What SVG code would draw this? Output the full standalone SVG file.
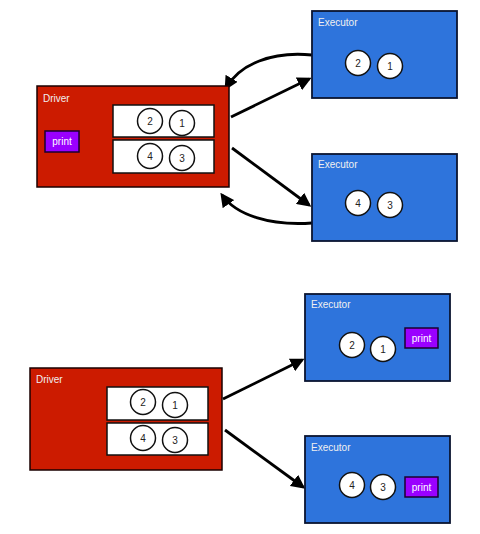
<svg xmlns="http://www.w3.org/2000/svg" width="480" height="534" viewBox="0 0 480 534">
<style>
.drv{fill:#cc1b00;stroke:#1a0000;stroke-width:1.5}
.exe{fill:#2e74dc;stroke:#0a1430;stroke-width:1.8}
.part{fill:#ffffff;stroke:#111;stroke-width:1.5}
.c{fill:#ffffff;stroke:#111;stroke-width:1.5}
.lbl{font-family:"Liberation Sans",Arial,sans-serif;font-size:10px;fill:#f0f0f0}
.num{font-family:"Liberation Sans",Arial,sans-serif;font-size:10px;fill:#222;text-anchor:middle}
.prt{fill:#9a00ff;stroke:#1a0030;stroke-width:1.5}
.pt{font-family:"Liberation Sans",Arial,sans-serif;font-size:10px;fill:#ffffff;text-anchor:middle}
.ar{fill:none;stroke:#000;stroke-width:2.8;marker-end:url(#ah)}
</style>
<defs>
<marker id="ah" viewBox="0 0 10 10" refX="8" refY="5" markerWidth="5" markerHeight="5" orient="auto" markerUnits="strokeWidth">
<path d="M0,0 L10,5 L0,10 Z" fill="#000"/>
</marker>
</defs>
<g id="connectors">
<path class="ar" d="M312,55 C272,51 240,64 226,88"/>
<path class="ar" d="M231,117 L309,79"/>
<path class="ar" d="M232,148 L309,205"/>
<path class="ar" d="M312,223 C270,226 236,215 222,195"/>
<path class="ar" d="M223,399 L302,360"/>
<path class="ar" d="M225,430 L303,487"/>
</g>
<g id="driver1">
<rect class="drv" x="37" y="86" width="192" height="101"/>
<text class="lbl" x="43" y="102">Driver</text>
<rect class="prt" x="45" y="131" width="34" height="21"/>
<text class="pt" x="62" y="145">print</text>
<rect class="part" x="113" y="105" width="101" height="32"/>
<rect class="part" x="113" y="140" width="101" height="33"/>
<circle class="c" cx="150" cy="121" r="12.5"/><text class="num" x="150" y="124.5">2</text>
<circle class="c" cx="182" cy="123" r="12.5"/><text class="num" x="182" y="126.5">1</text>
<circle class="c" cx="150" cy="156" r="12.5"/><text class="num" x="150" y="159.5">4</text>
<circle class="c" cx="182" cy="158" r="12.5"/><text class="num" x="182" y="161.5">3</text>
</g>
<g id="executor1">
<rect class="exe" x="312" y="11" width="145" height="87"/>
<text class="lbl" x="318" y="26">Executor</text>
<circle class="c" cx="358" cy="63" r="12.5"/><text class="num" x="358" y="66.5">2</text>
<circle class="c" cx="390" cy="66" r="12.5"/><text class="num" x="390" y="69.5">1</text>
</g>
<g id="executor2">
<rect class="exe" x="312" y="154" width="145" height="87"/>
<text class="lbl" x="318" y="168">Executor</text>
<circle class="c" cx="358" cy="203" r="12.5"/><text class="num" x="358" y="206.5">4</text>
<circle class="c" cx="390" cy="205" r="12.5"/><text class="num" x="390" y="208.5">3</text>
</g>
<g id="driver2">
<rect class="drv" x="30" y="368" width="192" height="102"/>
<text class="lbl" x="36" y="383">Driver</text>
<rect class="part" x="107" y="387" width="101" height="33"/>
<rect class="part" x="107" y="423" width="101" height="32"/>
<circle class="c" cx="143" cy="402" r="12.5"/><text class="num" x="143" y="405.5">2</text>
<circle class="c" cx="175" cy="405" r="12.5"/><text class="num" x="175" y="408.5">1</text>
<circle class="c" cx="143" cy="438" r="12.5"/><text class="num" x="143" y="441.5">4</text>
<circle class="c" cx="175" cy="440" r="12.5"/><text class="num" x="175" y="443.5">3</text>
</g>
<g id="executor3">
<rect class="exe" x="305" y="294" width="145" height="87"/>
<text class="lbl" x="311" y="308">Executor</text>
<circle class="c" cx="352" cy="345" r="12.5"/><text class="num" x="352" y="348.5">2</text>
<circle class="c" cx="383" cy="349" r="12.5"/><text class="num" x="383" y="352.5">1</text>
<rect class="prt" x="405" y="328" width="33" height="20"/>
<text class="pt" x="421.5" y="341.5">print</text>
</g>
<g id="executor4">
<rect class="exe" x="305" y="436" width="145" height="87"/>
<text class="lbl" x="311" y="451">Executor</text>
<circle class="c" cx="352" cy="485" r="12.5"/><text class="num" x="352" y="488.5">4</text>
<circle class="c" cx="383" cy="487" r="12.5"/><text class="num" x="383" y="490.5">3</text>
<rect class="prt" x="405" y="477" width="33" height="20"/>
<text class="pt" x="421.5" y="490.5">print</text>
</g>
</svg>
